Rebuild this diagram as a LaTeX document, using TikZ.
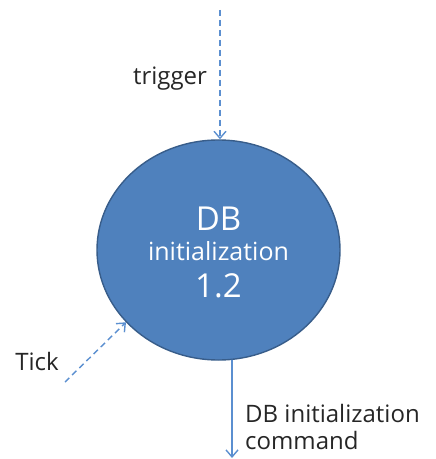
\documentclass[tikz,border=0pt]{standalone}
\usepackage{fontspec}
\setmainfont{Open Sans}
\usepackage{xcolor}
\usetikzlibrary{shapes.geometric,arrows.meta}
\definecolor{procfill}{HTML}{4F81BD}
\definecolor{procedge}{HTML}{385D8A}
\definecolor{flowcol}{HTML}{5B8FD0}
\begin{document}
\begin{tikzpicture}[line cap=round,line join=round,x=1bp,y=-1bp,
  procnode/.style={ellipse,draw=procedge,line width=1.4bp,fill=procfill,
    minimum width=243bp,minimum height=220bp,inner sep=0pt},
  flow/.style={draw=flowcol,line width=1.4bp,-{Straight Barb[length=7bp,width=12bp]}},
  dashflow/.style={flow,line cap=butt,dash pattern=on 6bp off 4bp},
  lbl/.style={font=\fontsize{24bp}{27bp}\selectfont,text=black!85,inner sep=0pt}]
			\useasboundingbox (0,0) rectangle (436,459);
			\node[procnode] (proc) at (218.5,250) {};
			\node[text=white,font=\fontsize{33bp}{35bp}\selectfont] (pname) at (218.5,219) {DB};
			\node[text=white,font=\fontsize{25bp}{27bp}\selectfont] (pdesc) at (218.5,251) {initialization};
			\node[text=white,font=\fontsize{33bp}{35bp}\selectfont] (pnum) at (218.5,286) {1.2};
			\coordinate (trigsrc) at (220,10);
			\coordinate (ticksrc) at (65,382);
			\coordinate (cmdend) at (232,458);
			\draw [dashflow] (trigsrc) -- (proc.north -| trigsrc);
			\draw [dashflow] (ticksrc) -- (proc.-142);
			\draw [flow] (proc.south -| cmdend) ++(0,-0.5) -- (cmdend);
			\node[lbl] (triglbl) at (170,79) {trigger};
			\node[lbl] (ticklbl) at (37,361) {Tick};
			\node[lbl,anchor=west,align=left] (cmdlbl) at (245,427) {DB initialization\\command};
\end{tikzpicture}
\end{document}
